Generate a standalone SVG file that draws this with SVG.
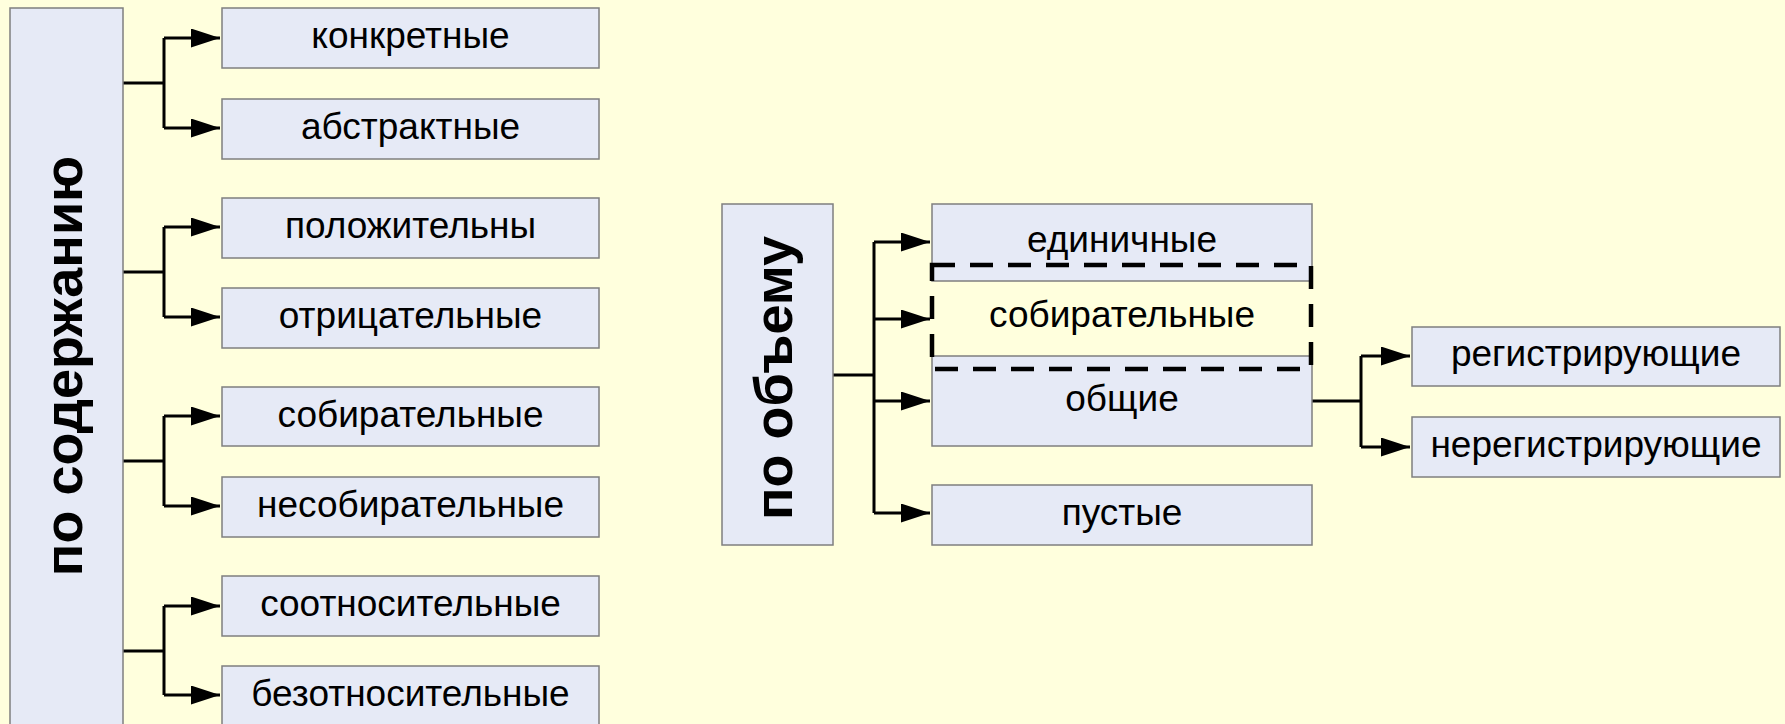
<svg xmlns="http://www.w3.org/2000/svg" width="1785" height="724" viewBox="0 0 1785 724">
  <style>
    .bg { fill: #FFFFDD; }
    .box { fill: #E6EAF6; stroke: #7F7F7F; stroke-width: 1.5; }
    .lbl { font-family: "Liberation Sans", Arial, sans-serif; font-size: 37px; fill: #000; text-anchor: middle; }
    .vlbl { font-family: "Liberation Sans", Arial, sans-serif; font-size: 54px; font-weight: bold; fill: #000; text-anchor: middle; }
    .ln { fill: none; stroke: #000; stroke-width: 3; }
    .arr { fill: none; stroke: #000; stroke-width: 3; marker-end: url(#ah); }
    .dash { fill: none; stroke: #000; stroke-width: 4.5; stroke-dasharray: 23 15; }
  </style>
  <defs>
    <marker id="ah" viewBox="0 0 29 19" refX="29" refY="9.5" markerWidth="29" markerHeight="19" markerUnits="userSpaceOnUse" orient="auto">
      <path d="M0,0 L29,9.5 L0,19 z" fill="#000"/>
    </marker>
  </defs>
  <rect class="bg" x="0" y="0" width="1785" height="724"/>

  <g id="connectors">
    <path class="ln" d="M123 83 H164 M164 38 V128"/>
    <path class="arr" d="M164 38 H220"/>
    <path class="arr" d="M164 128 H220"/>
    <path class="ln" d="M123 272 H164 M164 227 V317"/>
    <path class="arr" d="M164 227 H220"/>
    <path class="arr" d="M164 317 H220"/>
    <path class="ln" d="M123 461 H164 M164 416 V506"/>
    <path class="arr" d="M164 416 H220"/>
    <path class="arr" d="M164 506 H220"/>
    <path class="ln" d="M123 651 H164 M164 606 V695"/>
    <path class="arr" d="M164 606 H220"/>
    <path class="arr" d="M164 695 H220"/>

    <path class="ln" d="M833 375 H874 M874 242 V513"/>
    <path class="arr" d="M874 242 H930"/>
    <path class="arr" d="M874 319 H930"/>
    <path class="arr" d="M874 401 H930"/>
    <path class="arr" d="M874 513 H930"/>

    <path class="ln" d="M1312 401 H1361 M1361 356 V447"/>
    <path class="arr" d="M1361 356 H1410"/>
    <path class="arr" d="M1361 447 H1410"/>
  </g>

  <g id="po-soderzhaniyu">
    <rect class="box" x="10" y="8" width="113" height="740"/>
    <text class="vlbl" transform="translate(82,366) rotate(-90)">по содержанию</text>
  </g>
  <g id="konkretnye">
    <rect class="box" x="222" y="8" width="377" height="60"/>
    <text class="lbl" x="410.5" y="48">конкретные</text>
  </g>
  <g id="abstraktnye">
    <rect class="box" x="222" y="99" width="377" height="60"/>
    <text class="lbl" x="410.5" y="139">абстрактные</text>
  </g>
  <g id="polozhitelnye">
    <rect class="box" x="222" y="198" width="377" height="60"/>
    <text class="lbl" x="410.5" y="238">положительны</text>
  </g>
  <g id="otritsatelnye">
    <rect class="box" x="222" y="288" width="377" height="60"/>
    <text class="lbl" x="410.5" y="328">отрицательные</text>
  </g>
  <g id="sobiratelnye-1">
    <rect class="box" x="222" y="387" width="377" height="59"/>
    <text class="lbl" x="410.5" y="427">собирательные</text>
  </g>
  <g id="nesobiratelnye">
    <rect class="box" x="222" y="477" width="377" height="60"/>
    <text class="lbl" x="410.5" y="517">несобирательные</text>
  </g>
  <g id="sootnositelnye">
    <rect class="box" x="222" y="576" width="377" height="60"/>
    <text class="lbl" x="410.5" y="616">соотносительные</text>
  </g>
  <g id="bezotnositelnye">
    <rect class="box" x="222" y="666" width="377" height="70"/>
    <text class="lbl" x="410.5" y="706">безотносительные</text>
  </g>

  <g id="po-obemu">
    <rect class="box" x="722" y="204" width="111" height="341"/>
    <text class="vlbl" transform="translate(792,378) rotate(-90)">по объему</text>
  </g>
  <g id="edinichnye">
    <rect class="box" x="932" y="204" width="380" height="77"/>
    <text class="lbl" x="1122" y="252">единичные</text>
  </g>
  <g id="obshchie">
    <rect class="box" x="932" y="356" width="380" height="90"/>
    <text class="lbl" x="1122" y="411">общие</text>
  </g>
  <g id="sobiratelnye-2">
    <rect class="dash" x="932" y="265" width="379" height="104"/>
    <text class="lbl" x="1122" y="327">собирательные</text>
  </g>
  <g id="pustye">
    <rect class="box" x="932" y="485" width="380" height="60"/>
    <text class="lbl" x="1122" y="525">пустые</text>
  </g>
  <g id="registriruyushchie">
    <rect class="box" x="1412" y="327" width="368" height="59"/>
    <text class="lbl" x="1596" y="366">регистрирующие</text>
  </g>
  <g id="neregistriruyushchie">
    <rect class="box" x="1412" y="417" width="368" height="60"/>
    <text class="lbl" x="1596" y="457">нерегистрирующие</text>
  </g>
</svg>
